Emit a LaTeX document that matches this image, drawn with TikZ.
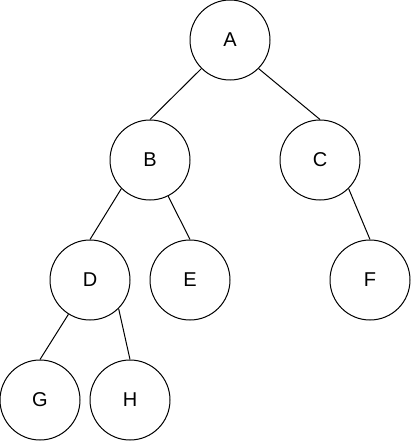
\documentclass[tikz,border=0pt]{standalone}
\usepackage{fontspec}
\setmainfont{Liberation Sans}
\begin{document}
\begin{tikzpicture}[x=1pt,y=-1pt,
  treenode/.style={circle,draw=black,line width=1pt,minimum size=80pt,inner sep=0pt,font=\fontsize{20}{24}\selectfont},
  edge/.style={draw=black,line width=1pt}]
\useasboundingbox (0,0) rectangle (411,441);
\node[treenode] (A) at (230,40) {A};
\node[treenode] (B) at (150,160) {B};
\node[treenode] (C) at (320,160) {C};
\node[treenode] (D) at (90,280) {D};
\node[treenode] (E) at (190,280) {E};
\node[treenode] (F) at (370,280) {F};
\node[treenode] (G) at (40,400) {G};
\node[treenode] (H) at (130,400) {H};
\draw[edge] (A.225) -- (B.north);
\draw[edge] (A.315) -- (C.north);
\draw[edge] (B.225) -- (D.north);
\draw[edge] (B) -- (E.north);
\draw[edge] (C.315) -- (F.north);
\draw[edge] (D) -- (G.north);
\draw[edge] (D.315) -- (H.north);
\end{tikzpicture}
\end{document}
